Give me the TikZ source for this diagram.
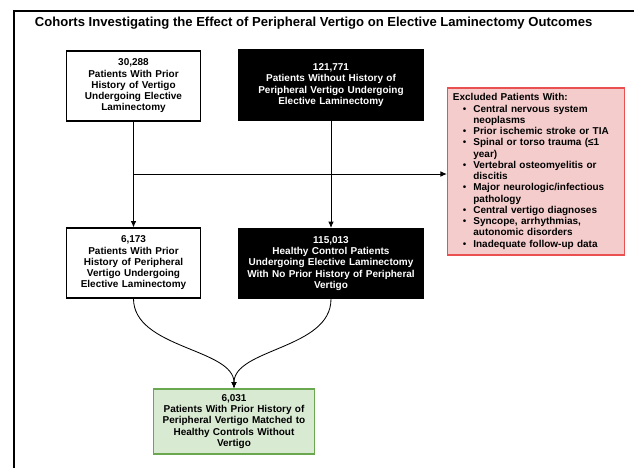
\documentclass[tikz,border=0pt]{standalone}
\usepackage{fontspec}
\setmainfont{Liberation Sans}
\usepackage{enumitem}
\usetikzlibrary{arrows.meta}
\definecolor{matchfill}{RGB}{217,234,211}
\definecolor{matchline}{RGB}{106,168,79}
\definecolor{exclfill}{RGB}{244,204,204}
\definecolor{exclline}{RGB}{234,80,80}

\begin{document}
\begin{tikzpicture}[
    x=0.025cm, y=-0.025cm,
    every node/.style={font=\fontsize{7.1}{8.0}\selectfont\bfseries},
    whitebox/.style={rectangle, draw, line width=0.8pt, fill=white, align=center, text width=3.3cm, minimum height=1.75cm, inner sep=1pt},
    blackbox/.style={rectangle, draw, line width=0.8pt, fill=black, text=white, align=center, text width=4.55cm, minimum height=1.75cm, inner sep=1pt},
    greenbox/.style={rectangle, draw=matchline, line width=0.8pt, fill=matchfill, align=center, text width=3.95cm, minimum height=1.625cm, inner sep=1pt},
    exclbox/.style={rectangle, draw=exclline, line width=0.8pt, fill=exclfill, align=left, text width=4.15cm, minimum width=4.35cm, minimum height=4.175cm, inner sep=4pt},
    arrow/.style={-{Latex[length=4.5pt,width=4pt]}, semithick}
]
\useasboundingbox (0,0) rectangle (634,468);

% Frame and title
\draw[line width=1.3pt] (14,468) -- (14,11) -- (634,11);
\node[font=\fontsize{9.3}{11}\selectfont\bfseries, anchor=west] (title) at (30,23) {Cohorts Investigating the Effect of Peripheral Vertigo on Elective Laminectomy Outcomes};

% Top row
\node[whitebox] (vertigo) at (133.5,86) {30,288\\Patients With Prior\\History of Vertigo\\Undergoing Elective\\Laminectomy};
\node[blackbox] (novertigo) at (331,85) {121,771\\Patients Without History of\\Peripheral Vertigo Undergoing\\Elective Laminectomy};

% Exclusion criteria
\node[exclbox] (excl) at (536,171.5) {Excluded Patients With:
\begin{itemize}[leftmargin=14.5pt, labelsep=5pt, itemsep=0pt, parsep=0pt, topsep=0pt, partopsep=0pt]
\item Central nervous system\\neoplasms
\item Prior ischemic stroke or TIA
\item Spinal or torso trauma (≤1\\year)
\item Vertebral osteomyelitis or\\discitis
\item Major neurologic/infectious\\pathology
\item Central vertigo diagnoses
\item Syncope, arrhythmias,\\autonomic disorders
\item Inadequate follow-up data
\end{itemize}};

% Middle row
\node[whitebox] (pvertigo) at (133.5,263) {6,173\\Patients With Prior\\History of Peripheral\\Vertigo Undergoing\\Elective Laminectomy};
\node[blackbox] (controls) at (331,263.5) {115,013\\Healthy Control Patients\\Undergoing Elective Laminectomy\\With No Prior History of Peripheral\\Vertigo};

% Matched cohort
\node[greenbox] (matched) at (234,421.5) {6,031\\Patients With Prior History of\\Peripheral Vertigo Matched to\\Healthy Controls Without\\Vertigo};

% Connectors
\coordinate (split) at (133.5,174);
\draw[arrow] (vertigo) -- (pvertigo);
\draw[arrow] (novertigo) -- (controls);
\draw[arrow] (split) -- (split -| excl.west);
\draw[arrow] (pvertigo.south) .. controls +(0,50) and +(0,-40) .. (matched.north);
\draw[arrow] (controls.south) .. controls +(0,50) and +(0,-40) .. (matched.north);

\end{tikzpicture}
\end{document}
